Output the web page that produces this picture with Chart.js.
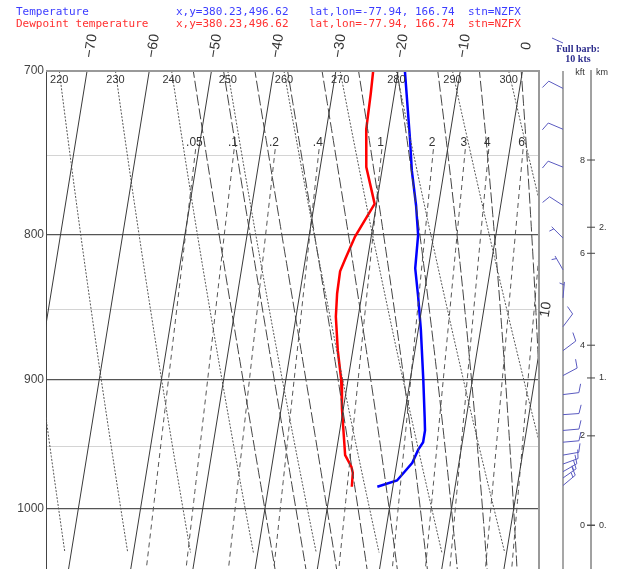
<!DOCTYPE html>
<html>
<head>
<meta charset="utf-8">
<script src="https://cdn.jsdelivr.net/npm/chart.js@4.4.1/dist/chart.umd.min.js"></script>
<style>
body { margin: 0; background: #fff; }
#wrap { width: 618px; height: 569px; }
</style>
</head>
<body>
<div id="wrap"><canvas id="skewt" width="618" height="569"></canvas></div>
<script>
// pressure grid (hPa)
var pLevels = [700, 750, 800, 850, 900, 950, 1000];
// background line families
var isoTemps = [-70, -60, -50, -40, -30, -20, -10, 0, 10];
var thetaK = [210, 220, 230, 240, 250, 260, 270, 280, 290, 300];
var mixRatios = [0.05, 0.1, 0.2, 0.4, 1, 2, 3, 4, 6, 8];
var mixLabels = ['.05', '.1', '.2', '.4', '1', '2', '3', '4', '6', ''];
var moistThetaW = [-30, -25, -20, -15, -10, -5, 0, 5, 10, 15];

// sounding
var tempP = [700, 740, 759, 781, 800, 822, 841, 864, 900, 928, 938, 947, 953, 963, 977, 982];
var tempC = [-18.9, -16.3, -15.2, -13.6, -12.5, -12.1, -10.9, -9.6, -7.9, -6.7, -6.3, -6.3, -6.9, -7.5, -9.5, -12.5];
var dewP = [700, 713, 734, 757, 780, 801, 816, 824, 839, 855, 879, 900, 922, 957, 966, 971, 982];
var dewC = [-24.0, -23.8, -23.6, -22.6, -20.3, -22.6, -23.6, -24.1, -24.0, -23.6, -22.4, -21.1, -20.2, -18.5, -17.2, -16.8, -16.6];

// winds
var windP = [710, 734, 757, 781, 802, 823, 842, 862, 879, 897, 911, 926, 938, 947, 957, 964, 970, 975, 981];
var windDir = [297, 293, 292, 303, 315, 330, 5, 37, 53, 62, 83, 86, 85, 85, 80, 70, 60, 55, 50];
var windSpd = [10, 10, 10, 10, 5, 5, 5, 10, 10, 10, 10, 10, 10, 10, 10, 10, 10, 15, 15];

// height scale ticks
var kftTicks = [0, 2, 4, 6, 8];
var kmTicks = [0, 1, 2];

var SKEW = 32;
var XMIN = -76.6, XMAX = 2.66;

function skewX(t, p) { return t - SKEW * Math.log(p / 700); }

function stdPres(m) { return 1013.25 * Math.pow(1 - 2.25577e-5 * m, 5.25588); }

function satMix(tk, p) {
    var es = 6.112 * Math.exp(17.67 * (tk - 273.15) / (tk - 29.65));
    return 0.622 * es / (p - es);
}
function moistSlope(tk, p) {
    var rs = satMix(tk, p), Lv = 2.501e6, Rd = 287.04, cp = 1005.7;
    return (Rd * tk + Lv * rs) / (cp + Lv * Lv * rs * 0.622 / (Rd * tk * tk));
}
function moistLine(tw) {
    var h = 0.002, up = [], down = [];
    var T = tw + 273.15, l = Math.log(1000), n = 0;
    while (Math.exp(l) > 695) {
        if (n % 5 == 0) up.push({ x: skewX(T - 273.15, Math.exp(l)), y: Math.exp(l) });
        var k1 = moistSlope(T, Math.exp(l));
        var k2 = moistSlope(T - h * k1, Math.exp(l - h));
        T -= h * (k1 + k2) / 2; l -= h; n++;
    }
    T = tw + 273.15; l = Math.log(1000); n = 0;
    while (Math.exp(l) < 1052) {
        if (n % 5 == 0 && n > 0) down.push({ x: skewX(T - 273.15, Math.exp(l)), y: Math.exp(l) });
        var k1 = moistSlope(T, Math.exp(l));
        var k2 = moistSlope(T + h * k1, Math.exp(l + h));
        T += h * (k1 + k2) / 2; l += h; n++;
    }
    return up.reverse().concat(down);
}
function mixTemp(w, p) {
    var e = w * p / (622 + w);
    var a = Math.log(e / 6.112);
    return 243.5 * a / (17.67 - a);
}

var datasets = [];
isoTemps.forEach(function(t) {
    datasets.push({ data: [{ x: skewX(t, 700), y: 700 }, { x: skewX(t, 1050), y: 1050 }],
        borderColor: '#3a3a3a', borderWidth: 1 });
});
thetaK.forEach(function(th) {
    var pts = [];
    for (var p = 700; p <= 1037; p += 6) pts.push({ x: skewX(th * Math.pow(p / 1000, 0.2857) - 273.15, p), y: p });
    datasets.push({ data: pts, borderColor: '#555', borderWidth: 1, borderDash: [2, 1.5] });
});
moistThetaW.forEach(function(tw) {
    datasets.push({ data: moistLine(tw), borderColor: '#444', borderWidth: 1, borderDash: [11, 3] });
});
mixRatios.forEach(function(w) {
    var pts = [];
    for (var p = 746; p <= 1050; p += 8) pts.push({ x: skewX(mixTemp(w, p), p), y: p });
    datasets.push({ data: pts, borderColor: '#555', borderWidth: 1, borderDash: [5, 4] });
});
datasets.push({ data: tempP.map(function(p, i) { return { x: skewX(tempC[i], p), y: p }; }),
    borderColor: '#0000ff', borderWidth: 2.5 });
datasets.push({ data: dewP.map(function(p, i) { return { x: skewX(dewC[i], p), y: p }; }),
    borderColor: '#ff0000', borderWidth: 2.5 });
datasets.forEach(function(d) { d.showLine = true; d.pointRadius = 0; d.fill = false; d.tension = 0; });

function drawBarb(ctx, bx, by, dir, spd) {
    var r = dir * Math.PI / 180;
    var sx = Math.sin(r), sy = -Math.cos(r), L = 16;
    var tx = bx + sx * L, ty = by + sy * L;
    var a = Math.atan2(sy, sx) - 72 * Math.PI / 180;
    ctx.beginPath();
    ctx.moveTo(bx, by); ctx.lineTo(tx, ty);
    var left = spd, pos = 0;
    while (left >= 10) {
        var px = tx - sx * pos, py = ty - sy * pos;
        ctx.moveTo(px, py); ctx.lineTo(px + Math.cos(a) * 9, py + Math.sin(a) * 9);
        left -= 10; pos += 3;
    }
    if (left >= 5) {
        if (pos == 0) pos = 3;
        var qx = tx - sx * pos, qy = ty - sy * pos;
        ctx.moveTo(qx, qy); ctx.lineTo(qx + Math.cos(a) * 5, qy + Math.sin(a) * 5);
    }
    ctx.stroke();
}

var decor = {
    id: 'decor',
    afterDatasetsDraw: function(chart) {
        var ctx = chart.ctx, ca = chart.chartArea;
        ctx.save();
        ctx.strokeStyle = '#999'; ctx.lineWidth = 2;
        ctx.beginPath(); ctx.moveTo(ca.right, ca.top); ctx.lineTo(ca.right, ca.bottom); ctx.stroke();
        ctx.beginPath(); ctx.moveTo(ca.left, ca.top); ctx.lineTo(ca.right + 1, ca.top); ctx.stroke();
        ctx.restore();
    },
    afterDraw: function(chart) {
        var ctx = chart.ctx, xs = chart.scales.x, ys = chart.scales.y, ca = chart.chartArea;
        ctx.save();
        // header
        ctx.font = '11px "DejaVu Sans Mono"';
        ctx.textBaseline = 'middle'; ctx.textAlign = 'left';
        ctx.fillStyle = '#3c3cff';
        ctx.fillText('Temperature', 16, 12);
        ctx.fillText('x,y=380.23,496.62', 176, 12);
        ctx.fillText('lat,lon=-77.94, 166.74', 309, 12);
        ctx.fillText('stn=NZFX', 468, 12);
        ctx.fillStyle = '#ff3030';
        ctx.fillText('Dewpoint temperature', 16, 24);
        ctx.fillText('x,y=380.23,496.62', 176, 24);
        ctx.fillText('lat,lon=-77.94, 166.74', 309, 24);
        ctx.fillText('stn=NZFX', 468, 24);

        // pressure labels
        ctx.fillStyle = '#444';
        ctx.font = '12px "Liberation Sans"';
        ctx.textAlign = 'right';
        pLevels.forEach(function(p) {
            if (p % 100 == 0) ctx.fillText(String(p), ca.left - 2, ys.getPixelForValue(p));
        });

        // isotherm labels, rotated along the lines
        var ya = ys.getPixelForValue(700), yb = ys.getPixelForValue(1050);
        ctx.fillStyle = '#333';
        ctx.font = '14px "Liberation Sans"';
        ctx.textAlign = 'center';
        isoTemps.forEach(function(t) {
            var xa = xs.getPixelForValue(skewX(t, 700)), xb = xs.getPixelForValue(skewX(t, 1050));
            var ang = Math.atan2(ya - yb, xa - xb);
            var lx, ly;
            if (xa <= ca.right) { lx = xa + 4; ly = 46; }
            else {
                lx = ca.right + 7;
                var p = 700 * Math.exp((t - xs.getValueForPixel(lx)) / SKEW);
                ly = ys.getPixelForValue(p);
            }
            ctx.save(); ctx.translate(lx, ly); ctx.rotate(ang);
            ctx.fillText(String(t).replace('-', '\u2212'), 0, 0);
            ctx.restore();
        });

        // theta labels
        ctx.font = '11px "Liberation Sans"';
        thetaK.forEach(function(th) {
            var x = xs.getPixelForValue(skewX(th * Math.pow(0.7, 0.2857) - 273.15, 700));
            if (x > ca.left + 5 && x < ca.right) ctx.fillText(String(th), x, 80);
        });
        // mixing ratio labels
        ctx.font = '12px "Liberation Sans"';
        mixRatios.forEach(function(w, i) {
            var x = xs.getPixelForValue(skewX(mixTemp(w, 742), 742)) - 2;
            if (mixLabels[i] && x < ca.right) ctx.fillText(mixLabels[i], x, 143);
        });

        // wind barb column
        ctx.strokeStyle = '#8a8a8a'; ctx.lineWidth = 1.5;
        ctx.beginPath(); ctx.moveTo(563, ca.top); ctx.lineTo(563, ca.bottom); ctx.stroke();
        ctx.strokeStyle = '#5a5ac0'; ctx.lineWidth = 1;
        windP.forEach(function(p, i) { drawBarb(ctx, 563, ys.getPixelForValue(p), windDir[i], windSpd[i]); });
        ctx.beginPath(); ctx.moveTo(552, 38); ctx.lineTo(563, 43); ctx.stroke();
        ctx.fillStyle = '#2c2c8c';
        ctx.font = 'bold 10px "Liberation Serif"';
        ctx.fillText('Full barb:', 578, 49);
        ctx.fillText('10 kts', 578, 59);

        // height scale
        ctx.strokeStyle = '#444'; ctx.lineWidth = 1;
        ctx.beginPath(); ctx.moveTo(591, 70); ctx.lineTo(591, ca.bottom); ctx.stroke();
        ctx.fillStyle = '#333';
        ctx.font = '9px "Liberation Sans"';
        ctx.fillText('kft', 580, 73);
        ctx.fillText('km', 602, 73);
        ctx.textAlign = 'right';
        kftTicks.forEach(function(k) {
            var y = ys.getPixelForValue(stdPres(k * 304.8));
            ctx.beginPath(); ctx.moveTo(587, y); ctx.lineTo(595, y); ctx.stroke();
            ctx.fillText(String(k), 585, y);
        });
        ctx.textAlign = 'left';
        kmTicks.forEach(function(k) {
            var y = ys.getPixelForValue(stdPres(k * 1000));
            ctx.beginPath(); ctx.moveTo(587, y); ctx.lineTo(595, y); ctx.stroke();
            ctx.fillText(k + '.', 599, y);
        });
        ctx.restore();
    }
};

new Chart(document.getElementById('skewt'), {
    type: 'scatter',
    data: { datasets: datasets },
    options: {
        responsive: false,
        animation: false,
        devicePixelRatio: 1,
        layout: { padding: { top: 71, right: 79, left: 0, bottom: 0 } },
        plugins: { legend: { display: false }, tooltip: { enabled: false } },
        scales: {
            x: { type: 'linear', min: XMIN, max: XMAX, display: false },
            y: {
                type: 'logarithmic', reverse: true, min: 700, max: 1050,
                afterFit: function(s) { s.width = 46; },
                afterBuildTicks: function(s) { s.ticks = pLevels.map(function(v) { return { value: v }; }); },
                grid: {
                    drawTicks: false,
                    color: function(c) { var v = c.tick.value; return v == 700 ? '#999' : (v % 100 == 0 ? '#555' : '#d4d4d4'); },
                    lineWidth: function(c) { var v = c.tick.value; return v == 700 ? 2 : (v % 100 == 0 ? 1.3 : 1); }
                },
                border: { display: true, color: '#444', width: 1 },
                ticks: { display: false }
            }
        }
    },
    plugins: [decor]
});
</script>
</body>
</html>
